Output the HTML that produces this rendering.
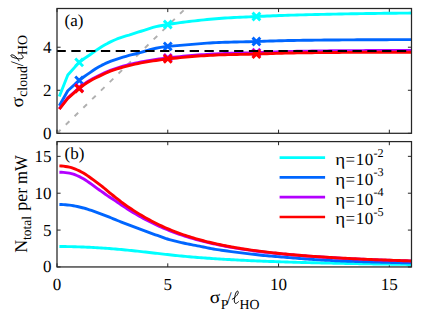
<!DOCTYPE html>
<html><head><meta charset="utf-8"><title>fig</title>
<style>html,body{margin:0;padding:0;background:#fff;}svg{display:block;}text{font-family:"Liberation Serif", serif;fill:#000;text-rendering:geometricPrecision;}</style></head><body>
<svg width="443" height="310" viewBox="0 0 443 310">
<rect width="443" height="310" fill="#fff"/>
<defs><clipPath id="c1"><rect x="57.0" y="8.5" width="354.5" height="124.80"/></clipPath><clipPath id="c2"><rect x="57.0" y="141.6" width="354.5" height="125.35"/></clipPath><path id="ell" d="M0.2,-4.1 C2.4,-5.0 6.2,-8.8 6.2,-11.0 C6.2,-12.5 4.9,-12.5 4.2,-11.3 C2.9,-8.8 2.1,-4.8 2.2,-2.3 C2.3,0.0 3.5,0.5 4.5,-0.1 C5.3,-0.6 5.9,-1.1 6.4,-1.6" fill="none" stroke="#000" stroke-width="0.95" stroke-linecap="round"/></defs>
<path d="M57.00,133.3 v-3.6 M57.00,8.5 v3.6 M167.78,133.3 v-3.6 M167.78,8.5 v3.6 M278.56,133.3 v-3.6 M278.56,8.5 v3.6 M389.34,133.3 v-3.6 M389.34,8.5 v3.6 M57.0,133.30 h3.6 M411.5,133.30 h-3.6 M57.0,90.27 h3.6 M411.5,90.27 h-3.6 M57.0,47.23 h3.6 M411.5,47.23 h-3.6 " stroke="#262626" stroke-width="1" fill="none"/>
<path d="M57.00,266.95 v-3.6 M57.00,141.6 v3.6 M167.78,266.95 v-3.6 M167.78,141.6 v3.6 M278.56,266.95 v-3.6 M278.56,141.6 v3.6 M389.34,266.95 v-3.6 M389.34,141.6 v3.6 M57.0,266.95 h3.6 M411.5,266.95 h-3.6 M57.0,230.08 h3.6 M411.5,230.08 h-3.6 M57.0,193.21 h3.6 M411.5,193.21 h-3.6 M57.0,156.35 h3.6 M411.5,156.35 h-3.6 " stroke="#262626" stroke-width="1" fill="none"/>
<g clip-path="url(#c1)" fill="none" stroke-linejoin="round">
<line x1="57.00" y1="133.30" x2="189.94" y2="4.20" stroke="#b0b0b0" stroke-width="1.95" stroke-dasharray="5 7.25"/>
<path d="M59.30,96.50 L67.80,75.00 L78.90,62.60 L84.00,58.73 L87.00,56.73 L90.00,54.69 L93.00,52.60 L96.00,50.55 L99.00,48.53 L102.00,46.57 L105.00,44.80 L108.00,43.17 L111.00,41.66 L114.00,40.24 L117.00,38.96 L120.00,37.84 L123.00,36.83 L126.00,35.93 L129.00,35.10 L132.00,34.17 L135.00,33.19 L138.00,32.22 L141.00,31.25 L144.00,30.31 L147.00,29.35 L150.00,28.38 L153.00,27.46 L156.00,26.66 L159.00,26.00 L162.00,25.45 L165.00,24.95 L168.00,24.47 L171.00,23.99 L174.00,23.54 L177.00,23.10 L180.00,22.68 L183.00,22.27 L186.00,21.89 L189.00,21.52 L192.00,21.17 L195.00,20.83 L198.00,20.50 L201.00,20.17 L204.00,19.85 L207.00,19.55 L210.00,19.26 L213.00,18.99 L216.00,18.72 L219.00,18.48 L222.00,18.25 L225.00,18.05 L228.00,17.87 L231.00,17.70 L234.00,17.54 L237.00,17.38 L240.00,17.24 L243.00,17.10 L246.00,16.96 L249.00,16.83 L252.00,16.70 L255.00,16.57 L258.00,16.43 L261.00,16.31 L264.00,16.18 L267.00,16.05 L270.00,15.93 L273.00,15.81 L276.00,15.69 L279.00,15.57 L282.00,15.47 L285.00,15.36 L288.00,15.26 L291.00,15.17 L294.00,15.08 L297.00,14.99 L300.00,14.91 L303.00,14.83 L306.00,14.75 L309.00,14.67 L312.00,14.60 L315.00,14.53 L318.00,14.46 L321.00,14.39 L324.00,14.33 L327.00,14.26 L330.00,14.20 L333.00,14.14 L336.00,14.08 L339.00,14.02 L342.00,13.96 L345.00,13.91 L348.00,13.85 L351.00,13.80 L354.00,13.74 L357.00,13.69 L360.00,13.65 L363.00,13.60 L366.00,13.56 L369.00,13.51 L372.00,13.47 L375.00,13.43 L378.00,13.40 L381.00,13.36 L384.00,13.32 L387.00,13.29 L390.00,13.25 L393.00,13.22 L396.00,13.19 L399.00,13.16 L402.00,13.13 L405.00,13.10 L408.00,13.08 L411.00,13.05 L411.50,13.05" stroke="#00ffff" stroke-width="2.9"/>
<path d="M59.30,105.70 L67.80,90.80 L78.90,80.60 L84.00,76.76 L87.00,74.67 L90.00,72.62 L93.00,70.56 L96.00,68.58 L99.00,66.80 L102.00,65.16 L105.00,63.69 L108.00,62.37 L111.00,61.18 L114.00,60.09 L117.00,59.08 L120.00,58.13 L123.00,57.22 L126.00,56.33 L129.00,55.47 L132.00,54.70 L135.00,53.98 L138.00,53.19 L141.00,52.33 L144.00,51.48 L147.00,50.61 L150.00,49.75 L153.00,48.93 L156.00,48.22 L159.00,47.65 L162.00,47.16 L165.00,46.73 L168.00,46.38 L171.00,46.08 L174.00,45.83 L177.00,45.61 L180.00,45.38 L183.00,45.15 L186.00,44.88 L189.00,44.61 L192.00,44.33 L195.00,44.07 L198.00,43.83 L201.00,43.60 L204.00,43.38 L207.00,43.17 L210.00,42.99 L213.00,42.82 L216.00,42.67 L219.00,42.53 L222.00,42.41 L225.00,42.30 L228.00,42.20 L231.00,42.12 L234.00,42.04 L237.00,41.96 L240.00,41.89 L243.00,41.83 L246.00,41.76 L249.00,41.69 L252.00,41.62 L255.00,41.54 L258.00,41.46 L261.00,41.37 L264.00,41.27 L267.00,41.16 L270.00,41.06 L273.00,40.96 L276.00,40.86 L279.00,40.77 L282.00,40.69 L285.00,40.62 L288.00,40.56 L291.00,40.51 L294.00,40.45 L297.00,40.40 L300.00,40.36 L303.00,40.31 L306.00,40.27 L309.00,40.23 L312.00,40.19 L315.00,40.15 L318.00,40.12 L321.00,40.09 L324.00,40.05 L327.00,40.03 L330.00,40.00 L333.00,39.98 L336.00,39.95 L339.00,39.93 L342.00,39.91 L345.00,39.89 L348.00,39.87 L351.00,39.85 L354.00,39.83 L357.00,39.81 L360.00,39.80 L363.00,39.78 L366.00,39.77 L369.00,39.75 L372.00,39.74 L375.00,39.73 L378.00,39.71 L381.00,39.70 L384.00,39.69 L387.00,39.68 L390.00,39.67 L393.00,39.65 L396.00,39.64 L399.00,39.63 L402.00,39.63 L405.00,39.62 L408.00,39.61 L411.00,39.60 L411.50,39.60" stroke="#0066ff" stroke-width="2.9"/>
<path d="M59.30,108.79 L67.80,97.80 L78.90,88.00 L84.00,84.11 L87.00,82.03 L90.00,80.16 L93.00,78.51 L96.00,77.00 L99.00,75.56 L102.00,74.12 L105.00,72.67 L108.00,71.31 L111.00,70.11 L114.00,69.07 L117.00,68.10 L120.00,67.15 L123.00,66.25 L126.00,65.44 L129.00,64.67 L132.00,63.94 L135.00,63.24 L138.00,62.59 L141.00,61.97 L144.00,61.39 L147.00,60.86 L150.00,60.37 L153.00,59.92 L156.00,59.49 L159.00,59.06 L162.00,58.65 L165.00,58.25 L168.00,57.88 L171.00,57.55 L174.00,57.23 L177.00,56.93 L180.00,56.62 L183.00,56.31 L186.00,56.00 L189.00,55.70 L192.00,55.43 L195.00,55.20 L198.00,54.98 L201.00,54.77 L204.00,54.58 L207.00,54.39 L210.00,54.20 L213.00,54.01 L216.00,53.85 L219.00,53.71 L222.00,53.60 L225.00,53.50 L228.00,53.40 L231.00,53.32 L234.00,53.24 L237.00,53.16 L240.00,53.09 L243.00,53.02 L246.00,52.95 L249.00,52.87 L252.00,52.79 L255.00,52.70 L258.00,52.60 L261.00,52.50 L264.00,52.38 L267.00,52.26 L270.00,52.13 L273.00,52.01 L276.00,51.89 L279.00,51.78 L282.00,51.68 L285.00,51.59 L288.00,51.52 L291.00,51.45 L294.00,51.38 L297.00,51.32 L300.00,51.25 L303.00,51.19 L306.00,51.14 L309.00,51.08 L312.00,51.03 L315.00,50.98 L318.00,50.94 L321.00,50.90 L324.00,50.86 L327.00,50.83 L330.00,50.80 L333.00,50.77 L336.00,50.75 L339.00,50.73 L342.00,50.70 L345.00,50.68 L348.00,50.66 L351.00,50.65 L354.00,50.63 L357.00,50.61 L360.00,50.60 L363.00,50.58 L366.00,50.57 L369.00,50.56 L372.00,50.54 L375.00,50.53 L378.00,50.52 L381.00,50.50 L384.00,50.49 L387.00,50.48 L390.00,50.47 L393.00,50.46 L396.00,50.44 L399.00,50.43 L402.00,50.43 L405.00,50.42 L408.00,50.41 L411.00,50.40 L411.50,50.40" stroke="#b300ff" stroke-width="2.9"/>
<path d="M75.26,58.48 L83.06,66.28 M75.26,66.28 L83.06,58.48" stroke="#00ffff" stroke-width="2.9" fill="none"/>
<path d="M163.88,20.60 L171.68,28.40 M163.88,28.40 L171.68,20.60" stroke="#00ffff" stroke-width="2.9" fill="none"/>
<path d="M252.51,12.60 L260.31,20.40 M252.51,20.40 L260.31,12.60" stroke="#00ffff" stroke-width="2.9" fill="none"/>
<path d="M75.26,76.49 L83.06,84.29 M75.26,84.29 L83.06,76.49" stroke="#0066ff" stroke-width="2.9" fill="none"/>
<path d="M163.88,42.50 L171.68,50.30 M163.88,50.30 L171.68,42.50" stroke="#0066ff" stroke-width="2.9" fill="none"/>
<path d="M252.51,37.60 L260.31,45.40 M252.51,45.40 L260.31,37.60" stroke="#0066ff" stroke-width="2.9" fill="none"/>
<path d="M75.26,83.90 L83.06,91.70 M75.26,91.70 L83.06,83.90" stroke="#b300ff" stroke-width="2.9" fill="none"/>
<path d="M163.88,54.01 L171.68,61.81 M163.88,61.81 L171.68,54.01" stroke="#b300ff" stroke-width="2.9" fill="none"/>
<path d="M252.51,48.76 L260.31,56.56 M252.51,56.56 L260.31,48.76" stroke="#b300ff" stroke-width="2.9" fill="none"/>
<path d="M59.30,109.10 L67.80,98.30 L78.90,88.70 L84.00,84.85 L87.00,82.77 L90.00,80.91 L93.00,79.27 L96.00,77.79 L99.00,76.36 L102.00,74.93 L105.00,73.49 L108.00,72.13 L111.00,70.94 L114.00,69.90 L117.00,68.94 L120.00,68.00 L123.00,67.11 L126.00,66.30 L129.00,65.54 L132.00,64.82 L135.00,64.13 L138.00,63.48 L141.00,62.87 L144.00,62.30 L147.00,61.78 L150.00,61.31 L153.00,60.86 L156.00,60.44 L159.00,60.02 L162.00,59.62 L165.00,59.23 L168.00,58.88 L171.00,58.55 L174.00,58.25 L177.00,57.95 L180.00,57.65 L183.00,57.35 L186.00,57.05 L189.00,56.76 L192.00,56.51 L195.00,56.28 L198.00,56.07 L201.00,55.88 L204.00,55.70 L207.00,55.52 L210.00,55.35 L213.00,55.18 L216.00,55.03 L219.00,54.91 L222.00,54.81 L225.00,54.73 L228.00,54.65 L231.00,54.58 L234.00,54.52 L237.00,54.46 L240.00,54.40 L243.00,54.35 L246.00,54.29 L249.00,54.23 L252.00,54.16 L255.00,54.09 L258.00,54.01 L261.00,53.92 L264.00,53.81 L267.00,53.70 L270.00,53.59 L273.00,53.48 L276.00,53.38 L279.00,53.28 L282.00,53.19 L285.00,53.12 L288.00,53.06 L291.00,53.00 L294.00,52.95 L297.00,52.90 L300.00,52.85 L303.00,52.80 L306.00,52.76 L309.00,52.72 L312.00,52.68 L315.00,52.64 L318.00,52.61 L321.00,52.58 L324.00,52.55 L327.00,52.52 L330.00,52.50 L333.00,52.48 L336.00,52.46 L339.00,52.44 L342.00,52.42 L345.00,52.41 L348.00,52.39 L351.00,52.38 L354.00,52.36 L357.00,52.35 L360.00,52.34 L363.00,52.32 L366.00,52.31 L369.00,52.30 L372.00,52.29 L375.00,52.28 L378.00,52.27 L381.00,52.27 L384.00,52.26 L387.00,52.25 L390.00,52.24 L393.00,52.23 L396.00,52.23 L399.00,52.22 L402.00,52.21 L405.00,52.21 L408.00,52.20 L411.00,52.20 L411.50,52.20" stroke="#ff0000" stroke-width="2.9"/>
<path d="M75.26,84.60 L83.06,92.40 M75.26,92.40 L83.06,84.60" stroke="#ff0000" stroke-width="2.9" fill="none"/>
<path d="M163.88,55.00 L171.68,62.80 M163.88,62.80 L171.68,55.00" stroke="#ff0000" stroke-width="2.9" fill="none"/>
<path d="M252.51,50.15 L260.31,57.95 M252.51,57.95 L260.31,50.15" stroke="#ff0000" stroke-width="2.9" fill="none"/>
<line x1="56.5" y1="51.05" x2="411.5" y2="51.05" stroke="#000" stroke-width="1.9" stroke-dasharray="9.3 5.5"/>
</g>
<g clip-path="url(#c2)" fill="none" stroke-linejoin="round">
<path d="M59.40,246.50 L61.40,246.52 L63.40,246.53 L65.40,246.56 L67.40,246.59 L69.40,246.62 L71.40,246.67 L73.40,246.71 L75.40,246.77 L77.40,246.83 L79.40,246.90 L81.40,246.97 L83.40,247.05 L85.40,247.13 L87.40,247.22 L89.40,247.31 L91.40,247.41 L93.40,247.52 L95.40,247.62 L97.40,247.74 L99.40,247.86 L101.40,247.99 L103.40,248.12 L105.40,248.26 L107.40,248.40 L109.40,248.55 L111.40,248.71 L113.40,248.87 L115.40,249.04 L117.40,249.21 L119.40,249.38 L121.40,249.56 L123.40,249.75 L125.40,249.94 L127.40,250.13 L129.40,250.34 L131.40,250.54 L133.40,250.75 L135.40,250.97 L137.40,251.18 L139.40,251.40 L141.40,251.62 L143.40,251.84 L145.40,252.06 L147.40,252.28 L149.40,252.51 L151.40,252.74 L153.40,252.96 L155.40,253.19 L157.40,253.42 L159.40,253.65 L161.40,253.88 L163.40,254.10 L165.40,254.33 L167.40,254.55 L169.40,254.77 L171.40,255.00 L173.40,255.22 L175.40,255.44 L177.40,255.65 L179.40,255.86 L181.40,256.06 L183.40,256.25 L185.40,256.43 L187.40,256.61 L189.40,256.79 L191.40,256.96 L193.40,257.12 L195.40,257.28 L197.40,257.44 L199.40,257.60 L201.40,257.75 L203.40,257.90 L205.40,258.04 L207.40,258.18 L209.40,258.32 L211.40,258.46 L213.40,258.59 L215.40,258.72 L217.40,258.85 L219.40,258.98 L221.40,259.10 L223.40,259.22 L225.40,259.34 L227.40,259.46 L229.40,259.57 L231.40,259.69 L233.40,259.80 L235.40,259.91 L237.40,260.01 L239.40,260.12 L241.40,260.22 L243.40,260.32 L245.40,260.42 L247.40,260.52 L249.40,260.61 L251.40,260.70 L253.40,260.79 L255.40,260.88 L257.40,260.96 L259.40,261.05 L261.40,261.13 L263.40,261.20 L265.40,261.28 L267.40,261.36 L269.40,261.43 L271.40,261.50 L273.40,261.57 L275.40,261.64 L277.40,261.71 L279.40,261.78 L281.40,261.85 L283.40,261.91 L285.40,261.98 L287.40,262.04 L289.40,262.10 L291.40,262.16 L293.40,262.22 L295.40,262.28 L297.40,262.34 L299.40,262.39 L301.40,262.45 L303.40,262.50 L305.40,262.55 L307.40,262.61 L309.40,262.66 L311.40,262.71 L313.40,262.76 L315.40,262.81 L317.40,262.86 L319.40,262.90 L321.40,262.95 L323.40,263.00 L325.40,263.04 L327.40,263.08 L329.40,263.13 L331.40,263.17 L333.40,263.21 L335.40,263.25 L337.40,263.29 L339.40,263.33 L341.40,263.37 L343.40,263.41 L345.40,263.45 L347.40,263.48 L349.40,263.52 L351.40,263.56 L353.40,263.59 L355.40,263.63 L357.40,263.66 L359.40,263.70 L361.40,263.73 L363.40,263.76 L365.40,263.80 L367.40,263.83 L369.40,263.86 L371.40,263.89 L373.40,263.93 L375.40,263.96 L377.40,263.99 L379.40,264.02 L381.40,264.05 L383.40,264.08 L385.40,264.11 L387.40,264.14 L389.40,264.17 L391.40,264.20 L393.40,264.23 L395.40,264.26 L397.40,264.29 L399.40,264.32 L401.40,264.35 L403.40,264.38 L405.40,264.41 L407.40,264.43 L409.40,264.46 L411.40,264.49 L411.50,264.49" stroke="#00ffff" stroke-width="2.9"/>
<path d="M59.40,204.50 L61.40,204.56 L63.40,204.66 L65.40,204.81 L67.40,204.99 L69.40,205.18 L71.40,205.42 L73.40,205.73 L75.40,206.11 L77.40,206.54 L79.40,207.00 L81.40,207.48 L83.40,207.97 L85.40,208.51 L87.40,209.12 L89.40,209.76 L91.40,210.45 L93.40,211.15 L95.40,211.86 L97.40,212.57 L99.40,213.29 L101.40,214.04 L103.40,214.81 L105.40,215.59 L107.40,216.38 L109.40,217.18 L111.40,217.99 L113.40,218.82 L115.40,219.65 L117.40,220.47 L119.40,221.26 L121.40,222.05 L123.40,222.84 L125.40,223.62 L127.40,224.40 L129.40,225.17 L131.40,225.94 L133.40,226.70 L135.40,227.46 L137.40,228.21 L139.40,228.95 L141.40,229.68 L143.40,230.41 L145.40,231.15 L147.40,231.91 L149.40,232.68 L151.40,233.40 L153.40,234.09 L155.40,234.76 L157.40,235.43 L159.40,236.13 L161.40,236.89 L163.40,237.66 L165.40,238.38 L167.40,239.00 L169.40,239.58 L171.40,240.13 L173.40,240.66 L175.40,241.17 L177.40,241.66 L179.40,242.13 L181.40,242.59 L183.40,243.03 L185.40,243.47 L187.40,243.89 L189.40,244.28 L191.40,244.67 L193.40,245.05 L195.40,245.42 L197.40,245.80 L199.40,246.18 L201.40,246.58 L203.40,246.99 L205.40,247.41 L207.40,247.83 L209.40,248.23 L211.40,248.62 L213.40,248.97 L215.40,249.31 L217.40,249.62 L219.40,249.92 L221.40,250.20 L223.40,250.49 L225.40,250.76 L227.40,251.04 L229.40,251.32 L231.40,251.59 L233.40,251.86 L235.40,252.13 L237.40,252.39 L239.40,252.64 L241.40,252.89 L243.40,253.14 L245.40,253.37 L247.40,253.61 L249.40,253.84 L251.40,254.07 L253.40,254.30 L255.40,254.55 L257.40,254.80 L259.40,255.04 L261.40,255.24 L263.40,255.44 L265.40,255.62 L267.40,255.80 L269.40,255.97 L271.40,256.14 L273.40,256.30 L275.40,256.46 L277.40,256.62 L279.40,256.78 L281.40,256.94 L283.40,257.11 L285.40,257.28 L287.40,257.44 L289.40,257.61 L291.40,257.78 L293.40,257.95 L295.40,258.12 L297.40,258.29 L299.40,258.45 L301.40,258.62 L303.40,258.77 L305.40,258.93 L307.40,259.08 L309.40,259.23 L311.40,259.36 L313.40,259.50 L315.40,259.62 L317.40,259.75 L319.40,259.87 L321.40,259.98 L323.40,260.10 L325.40,260.20 L327.40,260.31 L329.40,260.41 L331.40,260.51 L333.40,260.61 L335.40,260.70 L337.40,260.79 L339.40,260.88 L341.40,260.96 L343.40,261.04 L345.40,261.11 L347.40,261.19 L349.40,261.26 L351.40,261.33 L353.40,261.39 L355.40,261.46 L357.40,261.52 L359.40,261.59 L361.40,261.65 L363.40,261.71 L365.40,261.77 L367.40,261.83 L369.40,261.88 L371.40,261.94 L373.40,262.00 L375.40,262.05 L377.40,262.10 L379.40,262.16 L381.40,262.21 L383.40,262.26 L385.40,262.32 L387.40,262.37 L389.40,262.42 L391.40,262.46 L393.40,262.51 L395.40,262.56 L397.40,262.61 L399.40,262.65 L401.40,262.70 L403.40,262.74 L405.40,262.78 L407.40,262.82 L409.40,262.86 L411.40,262.90 L411.50,262.90" stroke="#0066ff" stroke-width="2.9"/>
<path d="M59.40,172.20 L61.40,172.25 L63.40,172.40 L65.40,172.61 L67.40,172.88 L69.40,173.18 L71.40,173.60 L73.40,174.22 L75.40,174.96 L77.40,175.74 L79.40,176.65 L81.40,177.67 L83.40,178.77 L85.40,180.00 L87.40,181.35 L89.40,182.75 L91.40,184.18 L93.40,185.68 L95.40,187.19 L97.40,188.64 L99.40,190.04 L101.40,191.42 L103.40,192.80 L105.40,194.19 L107.40,195.59 L109.40,196.96 L111.40,198.29 L113.40,199.59 L115.40,200.88 L117.40,202.20 L119.40,203.59 L121.40,204.98 L123.40,206.34 L125.40,207.65 L127.40,208.93 L129.40,210.19 L131.40,211.43 L133.40,212.65 L135.40,213.85 L137.40,215.03 L139.40,216.18 L141.40,217.30 L143.40,218.41 L145.40,219.48 L147.40,220.54 L149.40,221.57 L151.40,222.57 L153.40,223.56 L155.40,224.51 L157.40,225.45 L159.40,226.36 L161.40,227.25 L163.40,228.12 L165.40,228.96 L167.40,229.78 L169.40,230.59 L171.40,231.37 L173.40,232.13 L175.40,232.87 L177.40,233.59 L179.40,234.29 L181.40,234.98 L183.40,235.64 L185.40,236.29 L187.40,236.92 L189.40,237.53 L191.40,238.13 L193.40,238.71 L195.40,239.28 L197.40,239.83 L199.40,240.37 L201.40,240.90 L203.40,241.40 L205.40,241.90 L207.40,242.39 L209.40,242.86 L211.40,243.32 L213.40,243.76 L215.40,244.20 L217.40,244.62 L219.40,245.04 L221.40,245.44 L223.40,245.83 L225.40,246.21 L227.40,246.59 L229.40,246.95 L231.40,247.31 L233.40,247.65 L235.40,247.99 L237.40,248.32 L239.40,248.64 L241.40,248.96 L243.40,249.26 L245.40,249.56 L247.40,249.85 L249.40,250.14 L251.40,250.41 L253.40,250.69 L255.40,250.95 L257.40,251.21 L259.40,251.46 L261.40,251.71 L263.40,251.95 L265.40,252.19 L267.40,252.42 L269.40,252.64 L271.40,252.86 L273.40,253.08 L275.40,253.29 L277.40,253.49 L279.40,253.69 L281.40,253.89 L283.40,254.08 L285.40,254.27 L287.40,254.46 L289.40,254.64 L291.40,254.81 L293.40,254.99 L295.40,255.16 L297.40,255.32 L299.40,255.48 L301.40,255.64 L303.40,255.80 L305.40,255.95 L307.40,256.10 L309.40,256.25 L311.40,256.39 L313.40,256.53 L315.40,256.67 L317.40,256.80 L319.40,256.93 L321.40,257.06 L323.40,257.19 L325.40,257.32 L327.40,257.44 L329.40,257.56 L331.40,257.68 L333.40,257.79 L335.40,257.91 L337.40,258.02 L339.40,258.13 L341.40,258.23 L343.40,258.34 L345.40,258.44 L347.40,258.54 L349.40,258.64 L351.40,258.74 L353.40,258.83 L355.40,258.93 L357.40,259.02 L359.40,259.11 L361.40,259.20 L363.40,259.29 L365.40,259.38 L367.40,259.46 L369.40,259.54 L371.40,259.63 L373.40,259.71 L375.40,259.78 L377.40,259.86 L379.40,259.94 L381.40,260.01 L383.40,260.09 L385.40,260.16 L387.40,260.23 L389.40,260.30 L391.40,260.37 L393.40,260.44 L395.40,260.51 L397.40,260.57 L399.40,260.64 L401.40,260.70 L403.40,260.76 L405.40,260.82 L407.40,260.89 L409.40,260.95 L411.40,261.00 L411.50,261.01" stroke="#b300ff" stroke-width="2.9"/>
<path d="M59.40,165.90 L61.40,165.97 L63.40,166.16 L65.40,166.45 L67.40,166.79 L69.40,167.17 L71.40,167.66 L73.40,168.35 L75.40,169.13 L77.40,169.97 L79.40,170.91 L81.40,171.95 L83.40,173.07 L85.40,174.31 L87.40,175.65 L89.40,177.05 L91.40,178.47 L93.40,179.95 L95.40,181.46 L97.40,182.96 L99.40,184.44 L101.40,185.95 L103.40,187.50 L105.40,189.14 L107.40,190.85 L109.40,192.54 L111.40,194.17 L113.40,195.75 L115.40,197.31 L117.40,198.87 L119.40,200.45 L121.40,202.02 L123.40,203.53 L125.40,204.96 L127.40,206.34 L129.40,207.69 L131.40,209.03 L133.40,210.35 L135.40,211.63 L137.40,212.89 L139.40,214.13 L141.40,215.34 L143.40,216.52 L145.40,217.67 L147.40,218.79 L149.40,219.89 L151.40,220.96 L153.40,222.01 L155.40,223.02 L157.40,224.01 L159.40,224.98 L161.40,225.92 L163.40,226.84 L165.40,227.73 L167.40,228.60 L169.40,229.44 L171.40,230.27 L173.40,231.07 L175.40,231.84 L177.40,232.60 L179.40,233.34 L181.40,234.06 L183.40,234.75 L185.40,235.43 L187.40,236.09 L189.40,236.73 L191.40,237.36 L193.40,237.97 L195.40,238.56 L197.40,239.13 L199.40,239.70 L201.40,240.24 L203.40,240.77 L205.40,241.29 L207.40,241.79 L209.40,242.28 L211.40,242.76 L213.40,243.22 L215.40,243.67 L217.40,244.11 L219.40,244.54 L221.40,244.96 L223.40,245.36 L225.40,245.76 L227.40,246.15 L229.40,246.52 L231.40,246.89 L233.40,247.25 L235.40,247.60 L237.40,247.94 L239.40,248.27 L241.40,248.59 L243.40,248.91 L245.40,249.21 L247.40,249.52 L249.40,249.81 L251.40,250.09 L253.40,250.37 L255.40,250.65 L257.40,250.91 L259.40,251.17 L261.40,251.43 L263.40,251.67 L265.40,251.92 L267.40,252.15 L269.40,252.38 L271.40,252.61 L273.40,252.83 L275.40,253.05 L277.40,253.26 L279.40,253.46 L281.40,253.67 L283.40,253.86 L285.40,254.06 L287.40,254.25 L289.40,254.43 L291.40,254.61 L293.40,254.79 L295.40,254.96 L297.40,255.13 L299.40,255.30 L301.40,255.46 L303.40,255.62 L305.40,255.77 L307.40,255.93 L309.40,256.08 L311.40,256.22 L313.40,256.37 L315.40,256.51 L317.40,256.65 L319.40,256.78 L321.40,256.91 L323.40,257.04 L325.40,257.17 L327.40,257.30 L329.40,257.42 L331.40,257.54 L333.40,257.66 L335.40,257.77 L337.40,257.89 L339.40,258.00 L341.40,258.11 L343.40,258.21 L345.40,258.32 L347.40,258.42 L349.40,258.52 L351.40,258.62 L353.40,258.72 L355.40,258.82 L357.40,258.91 L359.40,259.00 L361.40,259.09 L363.40,259.18 L365.40,259.27 L367.40,259.36 L369.40,259.44 L371.40,259.53 L373.40,259.61 L375.40,259.69 L377.40,259.77 L379.40,259.85 L381.40,259.92 L383.40,260.00 L385.40,260.07 L387.40,260.14 L389.40,260.22 L391.40,260.29 L393.40,260.35 L395.40,260.42 L397.40,260.49 L399.40,260.56 L401.40,260.62 L403.40,260.68 L405.40,260.75 L407.40,260.81 L409.40,260.87 L411.40,260.93 L411.50,260.93" stroke="#ff0000" stroke-width="2.9"/>
</g>
<rect x="57.0" y="8.5" width="354.5" height="124.80" fill="none" stroke="#262626" stroke-width="1.25"/>
<rect x="57.0" y="141.6" width="354.5" height="125.35" fill="none" stroke="#262626" stroke-width="1.25"/>
<text x="51.5" y="138.80" font-size="17" text-anchor="end">0</text>
<text x="51.5" y="95.77" font-size="17" text-anchor="end">2</text>
<text x="51.5" y="52.73" font-size="17" text-anchor="end">4</text>
<text x="51.5" y="272.45" font-size="17" text-anchor="end">0</text>
<text x="51.5" y="235.58" font-size="17" text-anchor="end">5</text>
<text x="51.5" y="198.71" font-size="17" text-anchor="end">10</text>
<text x="51.5" y="161.85" font-size="17" text-anchor="end">15</text>
<text x="57.00" y="290.3" font-size="17" text-anchor="middle">0</text>
<text x="167.78" y="290.3" font-size="17" text-anchor="middle">5</text>
<text x="278.56" y="290.3" font-size="17" text-anchor="middle">10</text>
<text x="389.34" y="290.3" font-size="17" text-anchor="middle">15</text>
<text x="64.5" y="25.9" font-size="17">(a)</text>
<text x="64.5" y="158.6" font-size="17">(b)</text>
<text x="209.7" y="303.3" font-size="18" textLength="10.5" lengthAdjust="spacingAndGlyphs">σ</text>
<text x="220.7" y="308.5" font-size="13.8" >P</text>
<text x="227.1" y="302.6" font-size="16.5" >/</text>
<use href="#ell" transform="translate(232.1,303.3)"/>
<text x="239.6" y="308.5" font-size="13.8" >HO</text>
<text transform="translate(23.0,107.6) rotate(-90)" font-size="18" textLength="10.5" lengthAdjust="spacingAndGlyphs">σ</text>
<text transform="translate(27.4,96.8) rotate(-90)" font-size="13.8" >cloud</text>
<text transform="translate(23.0,66.2) rotate(-90)" font-size="18" >/</text>
<use href="#ell" transform="translate(23.0,61.0) rotate(-90)"/>
<text transform="translate(27.4,54.9) rotate(-90)" font-size="13.8" >HO</text>
<text transform="translate(27.1,252.8) rotate(-90)" font-size="18" >N</text>
<text transform="translate(31.0,239.9) rotate(-90)" font-size="13.4" >total</text>
<text transform="translate(27.1,210.7) rotate(-90)" font-size="18" >per</text>
<text transform="translate(27.1,183.9) rotate(-90)" font-size="18" textLength="28.6" lengthAdjust="spacingAndGlyphs">mW</text>
<line x1="279.6" y1="157.60" x2="325.1" y2="157.60" stroke="#00ffff" stroke-width="2.7"/>
<text x="335.2" y="165.00" font-size="17" textLength="9.9" lengthAdjust="spacingAndGlyphs">η</text>
<text x="345.5" y="165.00" font-size="17" textLength="27.8">=10</text>
<text x="373.4" y="156.60" font-size="12.2" >-2</text>
<line x1="279.6" y1="177.40" x2="325.1" y2="177.40" stroke="#0066ff" stroke-width="2.7"/>
<text x="335.2" y="184.80" font-size="17" textLength="9.9" lengthAdjust="spacingAndGlyphs">η</text>
<text x="345.5" y="184.80" font-size="17" textLength="27.8">=10</text>
<text x="373.4" y="176.40" font-size="12.2" >-3</text>
<line x1="279.6" y1="197.20" x2="325.1" y2="197.20" stroke="#b300ff" stroke-width="2.7"/>
<text x="335.2" y="204.60" font-size="17" textLength="9.9" lengthAdjust="spacingAndGlyphs">η</text>
<text x="345.5" y="204.60" font-size="17" textLength="27.8">=10</text>
<text x="373.4" y="196.20" font-size="12.2" >-4</text>
<line x1="279.6" y1="217.00" x2="325.1" y2="217.00" stroke="#ff0000" stroke-width="2.7"/>
<text x="335.2" y="224.40" font-size="17" textLength="9.9" lengthAdjust="spacingAndGlyphs">η</text>
<text x="345.5" y="224.40" font-size="17" textLength="27.8">=10</text>
<text x="373.4" y="216.00" font-size="12.2" >-5</text>
</svg></body></html>
